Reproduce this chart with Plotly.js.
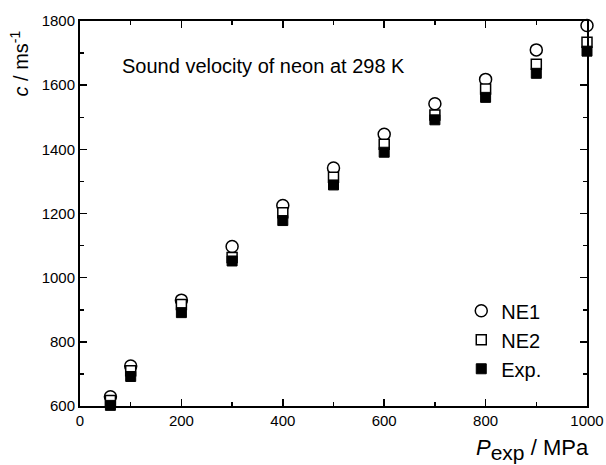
<!DOCTYPE html>
<html>
<head>
<meta charset="utf-8">
<script src="https://cdn.plot.ly/plotly-3.0.1.min.js"></script>
<style>
  html, body { margin: 0; padding: 0; background: #fff; }
  #chart { width: 606px; height: 465px; }
</style>
</head>
<body>
<div id="chart"></div>
<script>
// Sound velocity of neon at 298 K: two model predictions against experiment
const pressure = [60, 100, 200, 300, 400, 500, 600, 700, 800, 900, 1000];   // MPa
const ne1      = [629, 725, 930, 1097, 1225, 1342, 1447, 1542, 1618, 1710, 1786];
const ne2      = [617, 710, 916, 1063, 1202, 1313, 1416, 1507, 1588, 1665, 1734];
const expData  = [602, 692, 891, 1052, 1178, 1289, 1391, 1492, 1562, 1637, 1706];

const seriesNames = ['NE1', 'NE2', 'Exp.'];
const FONT = 'Liberation Sans, Arial, Helvetica, sans-serif';

const traces = [
  {
    x: pressure, y: ne1, name: seriesNames[0], legendgroup: 'a',
    type: 'scatter', mode: 'markers', cliponaxis: false,
    marker: { symbol: 'circle', size: 12, color: '#fff', line: { color: '#000', width: 1.5 } }
  },
  {
    x: pressure, y: ne2, name: seriesNames[1], legendgroup: 'b',
    type: 'scatter', mode: 'markers', cliponaxis: false,
    marker: { symbol: 'square', size: 10, color: '#fff', line: { color: '#000', width: 1.5 } }
  },
  {
    x: pressure, y: expData, name: seriesNames[2], legendgroup: 'c',
    type: 'scatter', mode: 'markers', cliponaxis: false,
    marker: { symbol: 'square', size: 10, color: '#000', line: { color: '#000', width: 1 } }
  }
];

const axisCommon = {
  showgrid: false, zeroline: false,
  showline: true, linecolor: '#000', linewidth: 2, mirror: 'allticks',
  ticks: 'inside', ticklen: 7, tickwidth: 1.5, tickcolor: '#000',
  tickfont: { family: FONT, size: 15, color: '#000' },
  minor: { ticks: 'inside', ticklen: 4, tickwidth: 1.5, tickcolor: '#000', dtick: 100 }
};

const layout = {
  width: 606, height: 465,
  margin: { l: 80, r: 19, t: 21, b: 59 },
  paper_bgcolor: '#fff', plot_bgcolor: '#fff',
  font: { family: FONT, color: '#000' },
  showlegend: true,
  xaxis: Object.assign({}, axisCommon, { range: [0, 1000], dtick: 200, tick0: 0 }),
  yaxis: Object.assign({}, axisCommon, { range: [600, 1800], dtick: 200, tick0: 600 }),
  legend: {
    x: 0.752, y: 0.298, xanchor: 'left', yanchor: 'top',
    bgcolor: 'rgba(0,0,0,0)', borderwidth: 0,
    font: { family: FONT, size: 20, color: '#000' },
    traceorder: 'grouped', tracegroupgap: 0
  },
  annotations: [
    {
      text: 'Sound velocity of neon at 298 K',
      xref: 'paper', yref: 'paper', x: 0.079, y: 0.883,
      xanchor: 'left', yanchor: 'middle', showarrow: false,
      font: { family: FONT, size: 20, color: '#000' }
    },
    {
      text: '<i>c</i> / ms<sup>-1</sup>',
      xref: 'paper', yref: 'paper', x: -0.12, y: 0.89,
      xanchor: 'center', yanchor: 'middle', textangle: -90, showarrow: false,
      font: { family: FONT, size: 20, color: '#000' }
    },
    {
      text: '<i>P</i><sub><span style="font-size:21px">exp</span></sub> / MPa',
      xref: 'paper', yref: 'paper', x: 1.008, y: -0.112,
      xanchor: 'right', yanchor: 'middle', showarrow: false,
      font: { family: FONT, size: 22, color: '#000' }
    }
  ]
};

Plotly.newPlot('chart', traces, layout, { displayModeBar: false, staticPlot: true });
</script>
</body>
</html>
